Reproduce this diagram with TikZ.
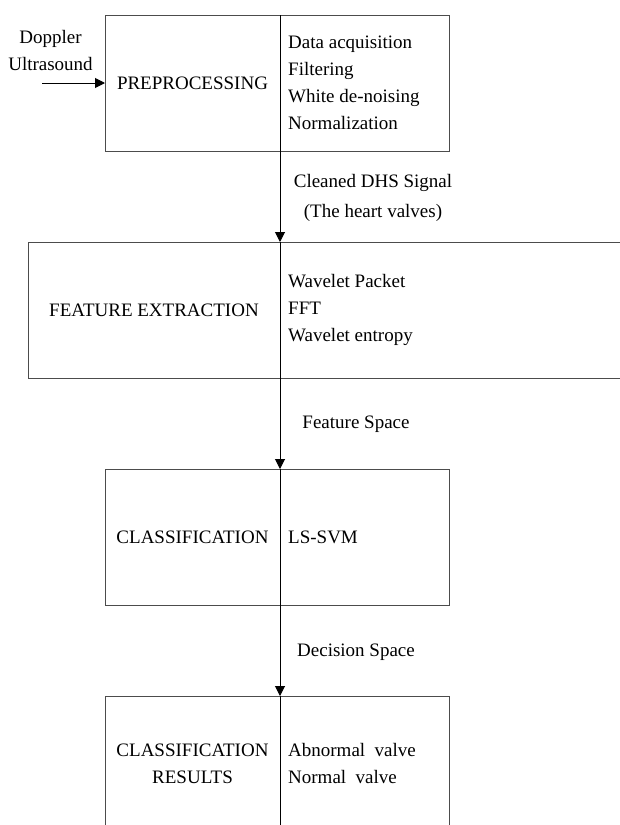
\documentclass[tikz,border=0pt]{standalone}
\usepackage{fontspec}
\setmainfont{Liberation Serif}
\usetikzlibrary{arrows.meta}

\begin{document}
\begin{tikzpicture}[x=1pt,y=-1pt,
  every node/.style={font=\fontsize{19}{27}\selectfont, inner sep=0pt},
  stage/.style={draw=black!70, line width=1.2pt, rectangle, anchor=north west},
  leftlabel/.style={align=center},
  items/.style={align=left, anchor=west},
  flowlabel/.style={align=center},
  link/.style={line width=1pt, -{Triangle[length=10pt,width=10pt]}},
  divider/.style={line width=1pt}
]
\clip (0,0) rectangle (620,825);
\fill[white] (0,0) rectangle (620,825);

% column through which the stages are joined
\coordinate (col) at (280,0);

% stage boxes
\node[stage, minimum width=344pt, minimum height=136pt] (pre)  at (105,15)  {};
\node[stage, minimum width=700pt, minimum height=136pt] (feat) at (28,242)  {};
\node[stage, minimum width=344pt, minimum height=136pt] (cls)  at (105,469) {};
\node[stage, minimum width=344pt, minimum height=200pt] (res)  at (105,696) {};

% dividers inside the boxes
\draw[divider] (pre.north -| col)  -- (pre.south -| col);
\draw[divider] (feat.north -| col) -- (feat.south -| col);
\draw[divider] (cls.north -| col)  -- (cls.south -| col);
\draw[divider] (res.north -| col)  -- (res.south -| col);

% stage names
\node[leftlabel] (preT)  at (192.5,83)  {PREPROCESSING};
\node[leftlabel] (featT) at (154,310)   {FEATURE EXTRACTION};
\node[leftlabel] (clsT)  at (192.5,537) {CLASSIFICATION};
\node[leftlabel] (resT)  at (192.5,763.5) {CLASSIFICATION\\RESULTS};

% methods of each stage
\node[items] (preL)  at (288,83)  {Data acquisition\\Filtering\\White de-noising\\Normalization};
\node[items] (featL) at (288,310) {Wavelet Packet\\FFT\\Wavelet entropy};
\node[items] (clsL)  at (288,537) {LS-SVM};
\node[items] (resL)  at (288,763.5) {Abnormal\ \ valve\\Normal\ \ valve};

% input
\node[flowlabel] (src) at (50.5,50.5) {Doppler\\Ultrasound};
\coordinate (in) at (42,83);
\draw[link] (in) -- (pre.west |- in);

% links between stages
\draw[link] (pre.south -| col)  -- (feat.north -| col);
\draw[link] (feat.south -| col) -- (cls.north -| col);
\draw[link] (cls.south -| col)  -- (res.north -| col);

% link labels
\node[flowlabel, font=\fontsize{19}{30}\selectfont] (l1) at (373,198) {Cleaned DHS Signal\\(The heart valves)};
\node[flowlabel] (l2) at (356,424) {Feature Space};
\node[flowlabel] (l3) at (356,652) {Decision Space};
\end{tikzpicture}
\end{document}
